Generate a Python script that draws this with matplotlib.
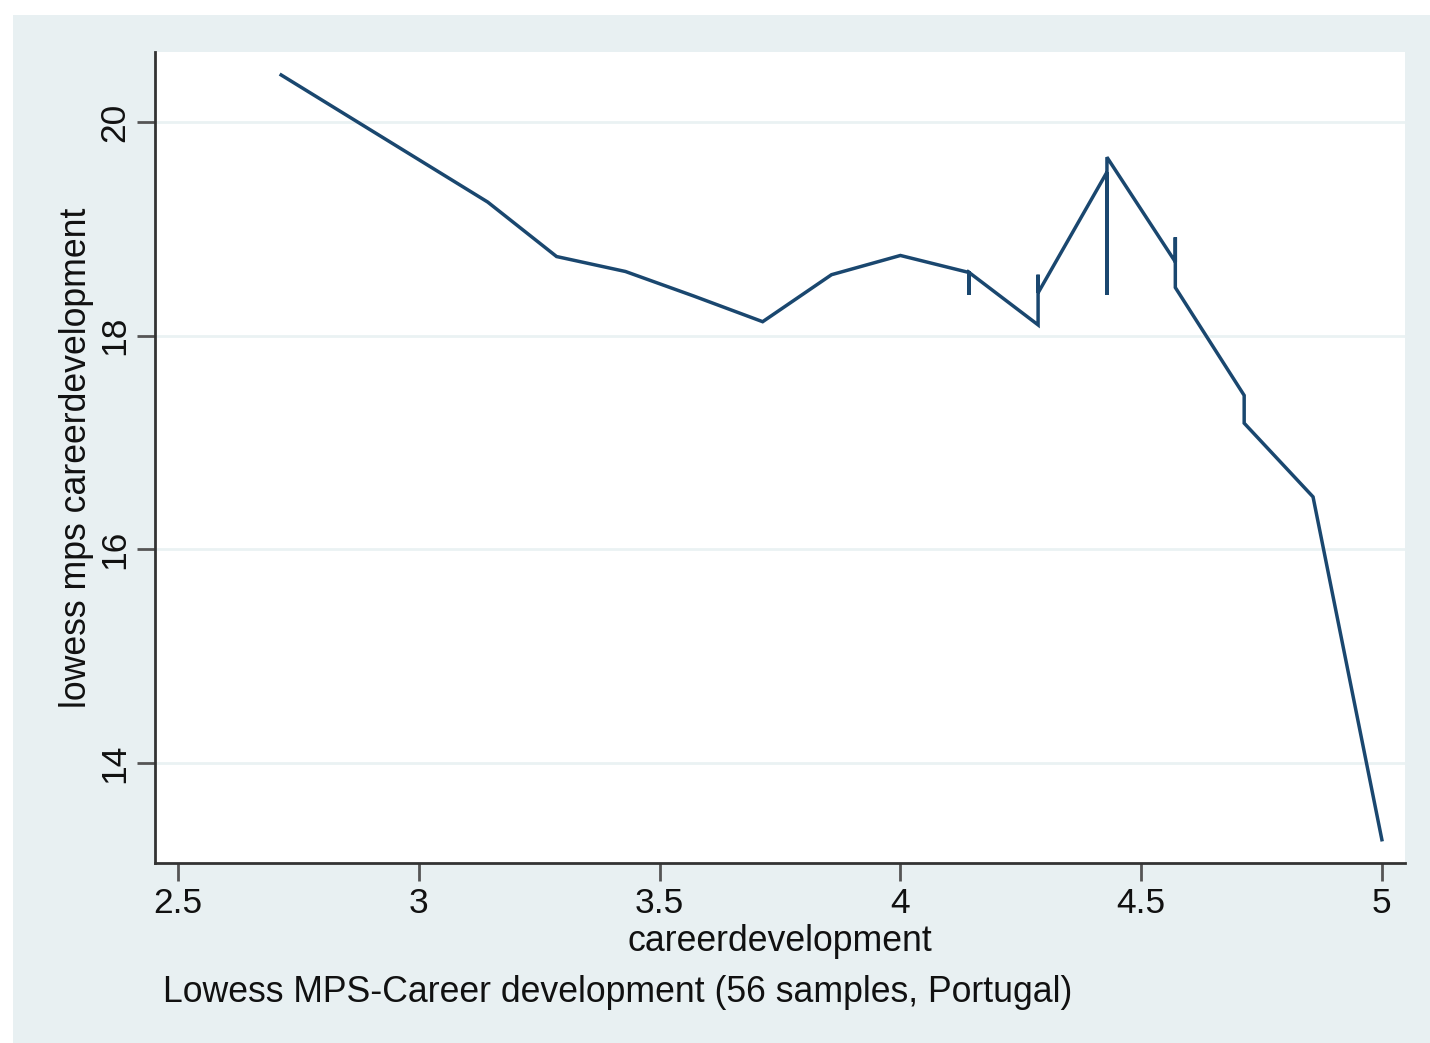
import numpy as np
import matplotlib.pyplot as plt
from matplotlib.patches import Rectangle

plt.rcParams['font.family'] = ['Liberation Sans', 'DejaVu Sans']

# Lowess fitted values, in sort order (tied x values give several fits)
career = [2.714, 3.143, 3.286, 3.429, 3.571, 3.714, 3.857, 4.0,
          4.143, 4.143, 4.143,
          4.286, 4.286, 4.286,
          4.429, 4.429, 4.429,
          4.571, 4.571, 4.571,
          4.714, 4.714,
          4.857, 5.0]
lowess_mps = [20.44, 19.25, 18.74, 18.60, 18.37, 18.13, 18.57, 18.75,
              18.59, 18.38, 18.59,
              18.10, 18.57, 18.40,
              19.53, 18.38, 19.67,
              18.69, 18.92, 18.45,
              17.44, 17.18,
              16.49, 13.28]

x_ticks = [2.5, 3, 3.5, 4, 4.5, 5]
x_labels = ['2.5', '3', '3.5', '4', '4.5', '5']
y_ticks = [14, 16, 18, 20]

W, H = 1430, 1043
fig = plt.figure(figsize=(W / 100, H / 100), dpi=100, facecolor='white')

# graph region background, kept behind the axes
fig.patches.append(Rectangle((13 / W, 0), 1 - 13 / W, 1 - 15 / H,
                             transform=fig.transFigure, facecolor='#e8f0f2',
                             edgecolor='none', zorder=-10))

ax = fig.add_axes([155 / W, 1 - 863 / H, (1405 - 155) / W, (863 - 52) / H])
ax.set_zorder(1)
ax.set_facecolor('white')

ax.plot(career, lowess_mps, color='#1a476f', lw=2.5, solid_joinstyle='miter')

ax.set_xlim(2.452, 5.048)
ax.set_ylim(13.062, 20.655)
ax.set_xticks(x_ticks)
ax.set_xticklabels(x_labels)
ax.set_yticks(y_ticks)
ax.set_yticklabels([str(v) for v in y_ticks], rotation=90, va='center')

ax.grid(axis='y', color='#eaf2f3', lw=2)
ax.set_axisbelow(True)

for side in ['top', 'right']:
    ax.spines[side].set_visible(False)
for side in ['left', 'bottom']:
    ax.spines[side].set_color('#333333')
    ax.spines[side].set_linewidth(2)

ax.tick_params(axis='both', length=13, width=2, color='#555555',
               labelsize=25.5, labelcolor='#111111')
ax.tick_params(axis='x', pad=4)
ax.tick_params(axis='y', pad=4)

ax.set_xlabel('careerdevelopment', fontsize=25.7, color='#111111', labelpad=3)
ax.set_ylabel('lowess mps careerdevelopment', fontsize=25.7, color='#111111',
              labelpad=3)

fig.text(163 / W, 1 - 993 / H,
         'Lowess MPS-Career development (56 samples, Portugal)',
         fontsize=25.7, color='#111111', ha='left', va='center')

fig.savefig('out.png', dpi=100, facecolor='white')
